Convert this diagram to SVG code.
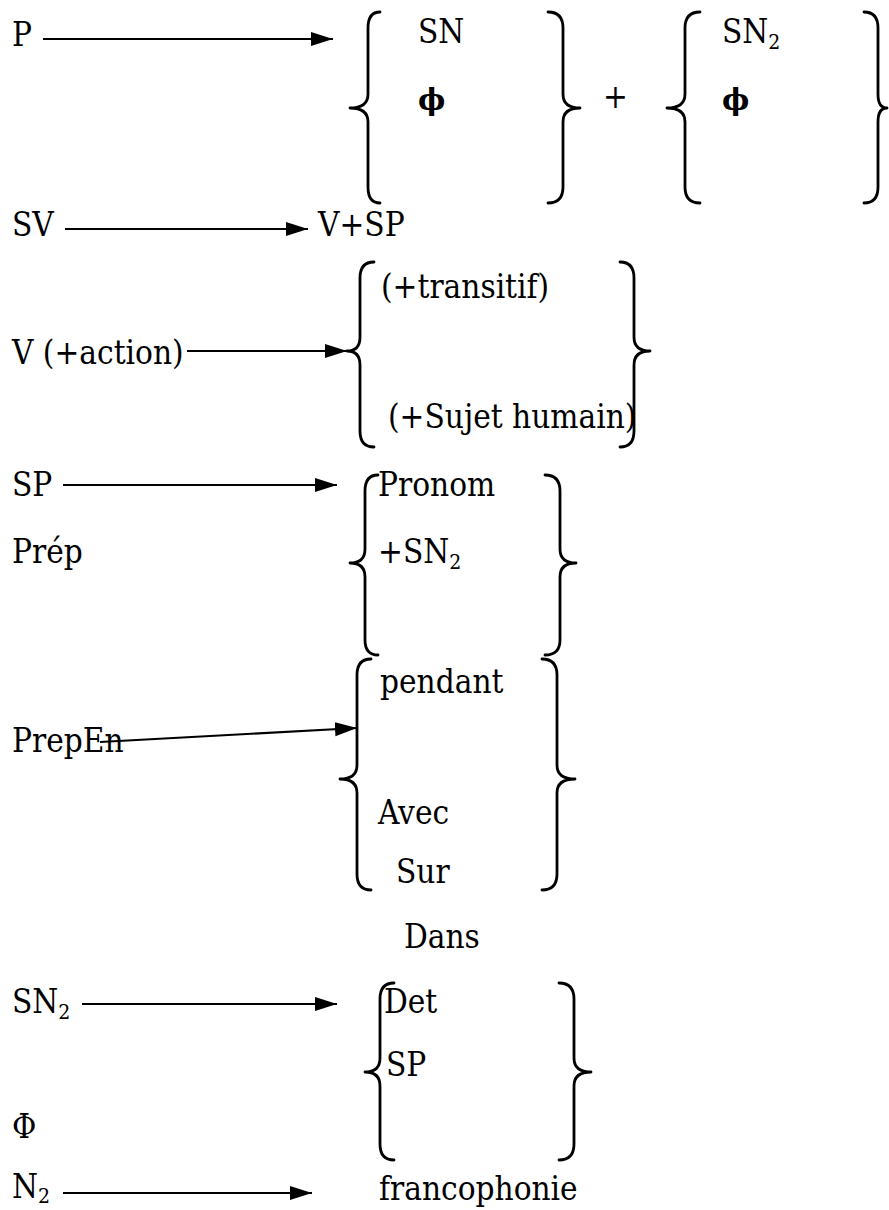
<svg xmlns="http://www.w3.org/2000/svg" width="889" height="1210" viewBox="0 0 889 1210">
  <style>
    text { font-family: 'DejaVu Serif', serif; font-stretch: condensed; font-size: 33px; fill: #000; }
    .sub { font-size: 21px; }
    .phi { font-size: 29px; font-weight: bold; font-stretch: normal; }
    .brace { fill: none; stroke: #000; stroke-width: 2.8; stroke-linecap: round; stroke-linejoin: round; }
    .arrow { fill: none; stroke: #000; stroke-width: 2.2; marker-end: url(#head); }
  </style>
  <defs>
    <marker id="head" markerUnits="userSpaceOnUse" markerWidth="24" markerHeight="16" refX="22" refY="7" orient="auto">
      <path d="M0,0 L22,7 L0,14 Z" fill="#000"/>
    </marker>
  </defs>
  <rect width="889" height="1210" fill="#fff"/>

  <!-- P -> {SN | ϕ} + {SN2 | ϕ} -->
  <g id="rule-p">
    <text x="12" y="46">P</text>
    <path class="brace" d="M380,12 Q368,12 368,28 L368,94 Q368,108 350,108 Q368,108 368,122 L368,187 Q368,203 380,203"/>
    <text x="418" y="43">SN</text>
    <text class="phi" x="418" y="110">ϕ</text>
    <path class="brace" d="M548,12 Q563,12 563,28 L563,94 Q563,108 580,108 Q563,108 563,122 L563,187 Q563,203 548,203"/>
    <text x="603" y="108">+</text>
    <path class="brace" d="M700,12 Q685,12 685,28 L685,94 Q685,108 667,108 Q685,108 685,122 L685,187 Q685,203 700,203"/>
    <text x="722" y="43">SN<tspan class="sub" dy="6">2</tspan></text>
    <text class="phi" x="722" y="110">ϕ</text>
    <path class="brace" d="M864,12 Q878,12 878,28 L878,94 Q878,108 887,108 Q878,108 878,122 L878,187 Q878,203 864,203"/>
  </g>

  <!-- SV -> V+SP -->
  <g id="rule-sv">
    <text x="12" y="236">SV</text>
    <text x="318" y="236">V+SP</text>
  </g>

  <!-- V (+action) -> {(+transitif) | (+Sujet humain)} -->
  <g id="rule-v">
    <text x="12" y="364">V (+action)</text>
    <path class="brace" d="M374,262 Q360,262 360,278 L360,337 Q360,351 347,351 Q360,351 360,365 L360,431 Q360,447 374,447"/>
    <text x="381" y="298">(+transitif)</text>
    <text x="388" y="428">(+Sujet humain)</text>
    <path class="brace" d="M620,262 Q634,262 634,278 L634,337 Q634,351 650,351 Q634,351 634,365 L634,431 Q634,447 620,447"/>
  </g>

  <!-- SP -> {Pronom | +SN2} -->
  <g id="rule-sp">
    <text x="12" y="496">SP</text>
    <text x="12" y="563">Prép</text>
    <path class="brace" d="M378,475 Q365,475 365,491 L365,549 Q365,563 350,563 Q365,563 365,577 L365,640 Q365,655 378,655"/>
    <text x="378" y="496">Pronom</text>
    <text x="378" y="563">+SN<tspan class="sub" dy="6">2</tspan></text>
    <path class="brace" d="M545,475 Q560,475 560,491 L560,549 Q560,563 576,563 Q560,563 560,577 L560,640 Q560,655 545,655"/>
  </g>

  <!-- PrepEn -> {pendant | Avec | Sur} Dans -->
  <g id="rule-prepen">
    <text x="12" y="752">PrepEn</text>
    <path class="brace" d="M371,659 Q357,659 357,675 L357,765 Q357,779 340,779 Q357,779 357,793 L357,874 Q357,890 371,890"/>
    <text x="380" y="693">pendant</text>
    <text x="378" y="824">Avec</text>
    <text x="396" y="883">Sur</text>
    <path class="brace" d="M542,659 Q557,659 557,675 L557,765 Q557,779 575,779 Q557,779 557,793 L557,874 Q557,890 542,890"/>
    <text x="404" y="948">Dans</text>
  </g>

  <!-- SN2 -> {Det | SP} Φ -->
  <g id="rule-sn2">
    <text x="12" y="1013">SN<tspan class="sub" dy="6">2</tspan></text>
    <path class="brace" d="M394,983 Q380,983 380,999 L380,1058 Q380,1072 365,1072 Q380,1072 380,1086 L380,1144 Q380,1160 394,1160"/>
    <text x="384" y="1013">Det</text>
    <text x="386" y="1076">SP</text>
    <path class="brace" d="M559,983 Q574,983 574,999 L574,1058 Q574,1072 591,1072 Q574,1072 574,1086 L574,1144 Q574,1160 559,1160"/>
    <text x="12" y="1138">Φ</text>
  </g>

  <!-- N2 -> francophonie -->
  <g id="rule-n2">
    <text x="12" y="1198">N<tspan class="sub" dy="5">2</tspan></text>
    <text x="379" y="1200">francophonie</text>
  </g>

  <!-- rewrite arrows -->
  <g id="connectors">
    <line class="arrow" x1="43" y1="39" x2="333" y2="39"/>
    <line class="arrow" x1="65" y1="229" x2="308" y2="229"/>
    <line class="arrow" x1="187" y1="351" x2="347" y2="351"/>
    <line class="arrow" x1="63" y1="485" x2="337" y2="485"/>
    <line class="arrow" x1="100" y1="742" x2="357" y2="728"/>
    <line class="arrow" x1="82" y1="1004" x2="337" y2="1004"/>
    <line class="arrow" x1="63" y1="1193" x2="312" y2="1193"/>
  </g>
</svg>
